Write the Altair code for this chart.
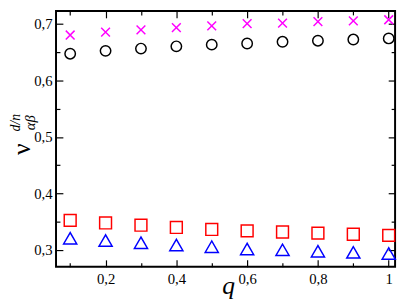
import altair as alt
import pandas as pd

q = [0.1, 0.2, 0.3, 0.4, 0.5, 0.6, 0.7, 0.8, 0.9, 1.0]
cross = [0.680, 0.685, 0.689, 0.693, 0.696, 0.700, 0.701, 0.7035, 0.705, 0.707]
circle = [0.647, 0.652, 0.656, 0.660, 0.663, 0.665, 0.668, 0.670, 0.672, 0.674]
square = [0.3525, 0.348, 0.344, 0.340, 0.3365, 0.334, 0.332, 0.330, 0.328, 0.326]
triangle = [0.321, 0.317, 0.313, 0.309, 0.306, 0.302, 0.3005, 0.298, 0.296, 0.294]

x_major = [0.2, 0.4, 0.6, 0.8, 1.0]
x_minor = [0.1, 0.3, 0.5, 0.7, 0.9]
y_major = [0.3, 0.4, 0.5, 0.6, 0.7]
y_minor = [0.35, 0.45, 0.55, 0.65]

series = ["cross", "circle", "square", "triangle"]
vals = [cross, circle, square, triangle]
rows = []
for s, v in zip(series, vals):
    for qq, vv in zip(q, v):
        rows.append({"q": qq, "v": vv, "s": s})
df = pd.DataFrame(rows)

W, H = 346, 261
XD = [0.06, 1.018]
YD = [0.2706, 0.7225]
FONT = "Liberation Serif"

xs = alt.Scale(domain=XD, nice=False, zero=False)
ys = alt.Scale(domain=YD, nice=False, zero=False)

label_x = "datum.value == 1 ? '1' : replace(format(datum.value, '.1f'), '.', ',')"
label_y = "replace(format(datum.value, '.1f'), '.', ',')"

main = alt.Chart(df).mark_point(filled=False, strokeWidth=1.5, opacity=1).encode(
    x=alt.X("q:Q", scale=xs, axis=alt.Axis(
        values=x_major, labelExpr=label_x, ticks=False, domain=False, grid=False,
        labelFont=FONT, labelFontSize=15, labelColor="black", labelPadding=5,
        title=None)),
    y=alt.Y("v:Q", scale=ys, axis=alt.Axis(
        values=y_major, labelExpr=label_y, ticks=False, domain=False, grid=False,
        labelFont=FONT, labelFontSize=15, labelColor="black", labelPadding=4,
        title=None)),
    shape=alt.Shape("s:N", scale=alt.Scale(
        domain=series,
        range=["M-1,-1L1,1M1,-1L-1,1", "circle", "square", "triangle-up"]), legend=None),
    color=alt.Color("s:N", scale=alt.Scale(
        domain=series, range=["#ff00ff", "black", "#ff0000", "#0000ff"]), legend=None),
    size=alt.Size("s:N", scale=alt.Scale(
        domain=series, range=[80, 180, 130, 170]), legend=None),
)


def tick_layer(ch, orient, values, size, offset):
    ax = alt.Axis(orient=orient, values=values, labels=False, domain=False, grid=False,
                  ticks=True, tickSize=size, tickColor="black", tickWidth=1.2,
                  title=None, offset=offset)
    base = alt.Chart(df).mark_point(opacity=0)
    if ch == "x":
        return base.encode(x=alt.X("q:Q", scale=xs, axis=ax),
                           y=alt.Y("v:Q", scale=ys, axis=None))
    return base.encode(x=alt.X("q:Q", scale=xs, axis=None),
                       y=alt.Y("v:Q", scale=ys, axis=ax))


ticks = [
    tick_layer("x", "top", x_major, 7, -H),
    tick_layer("x", "top", x_minor, 4, -H),
    tick_layer("x", "bottom", x_major, 7, -H),
    tick_layer("x", "bottom", x_minor, 4, -H),
    tick_layer("y", "right", y_major, 7, -W),
    tick_layer("y", "right", y_minor, 4, -W),
    tick_layer("y", "left", y_major, 7, -W),
    tick_layer("y", "left", y_minor, 4, -W),
]


def txt(t, size, x, y, style="normal", angle=270):
    return alt.Chart(pd.DataFrame({"t": [t]})).mark_text(
        font=FONT, fontSize=size, fontStyle=style, angle=angle, color="black",
        align="center", baseline="middle"
    ).encode(text="t:N", x=alt.value(x), y=alt.value(y))


nu = txt("ν", 26, -35, 141)
sup = txt("d/n", 14, -41, 114, "italic")
sub = txt("αβ", 15, -26, 114, "italic")
qt = txt("q", 26, 176, 281, "italic", 0)

chart = alt.layer(main, *ticks, nu, sup, sub, qt).resolve_axis(
    x="independent", y="independent"
).properties(
    width=W, height=H, autosize=alt.AutoSizeParams(type="none"),
    padding={"left": 49, "top": 0, "right": 4, "bottom": 35},
).configure_view(stroke="black", strokeWidth=2).configure_axis(
    labelFont=FONT, labelFontSize=15, labelColor="black"
).configure_text(font=FONT)

chart.save("out.html", embed_options={"renderer": "svg", "actions": False})
